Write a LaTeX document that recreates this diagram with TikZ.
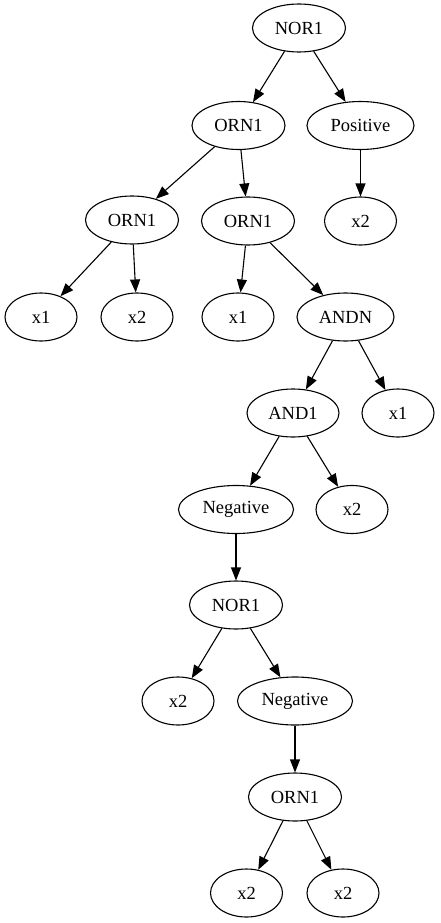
\documentclass[tikz,border=0pt]{standalone}
\usepackage{fontspec}
\setmainfont{Liberation Serif}
\usetikzlibrary{shapes.geometric,arrows.meta}
\begin{document}
\begin{tikzpicture}[x=1pt,y=-1pt,
  tn/.style={ellipse,draw,line width=1.1pt,inner sep=0pt,minimum height=48pt,
             minimum width=72pt,font=\fontsize{18.5}{20}\selectfont},
  w93/.style={minimum width=93pt},
  edge/.style={line width=1.1pt,-{Triangle[length=13pt,width=10pt]}}]
\useasboundingbox (0,0) rectangle (440,923);
\node[tn,w93] (n1) at (299,28) {NOR1};
\node[tn,w93] (n2) at (238.5,125.5) {ORN1};
\node[tn,minimum width=107pt] (n3) at (360.5,125.5) {Positive};
\node[tn,w93] (n4) at (132,220) {ORN1};
\node[tn,w93] (n5) at (248,221) {ORN1};
\node[tn] (n6) at (360.5,221) {x2};
\node[tn] (n7) at (41,317) {x1};
\node[tn] (n8) at (137,317) {x2};
\node[tn] (n9) at (238,317) {x1};
\node[tn,minimum width=97pt] (n10) at (345.5,317) {ANDN};
\node[tn,minimum width=92pt] (n11) at (293,413) {AND1};
\node[tn] (n12) at (398,413) {x1};
\node[tn,minimum width=115pt] (n13) at (236,509.5) {Negative};
\node[tn] (n14) at (352,509.5) {x2};
\node[tn,w93] (n15) at (236,605) {NOR1};
\node[tn] (n16) at (178,701) {x2};
\node[tn,minimum width=115pt] (n17) at (295,701) {Negative};
\node[tn,w93] (n18) at (295,797) {ORN1};
\node[tn] (n19) at (246.5,893) {x2};
\node[tn] (n20) at (343,893) {x2};
\foreach \a/\b in {n1/n2,n1/n3,n2/n4,n2/n5,n3/n6,n4/n7,n4/n8,n5/n9,n5/n10,
                   n10/n11,n10/n12,n11/n13,n11/n14,n13/n15,n15/n16,n15/n17,
                   n17/n18,n18/n19,n18/n20}
  \draw[edge] (\a) -- (\b);
\end{tikzpicture}
\end{document}
